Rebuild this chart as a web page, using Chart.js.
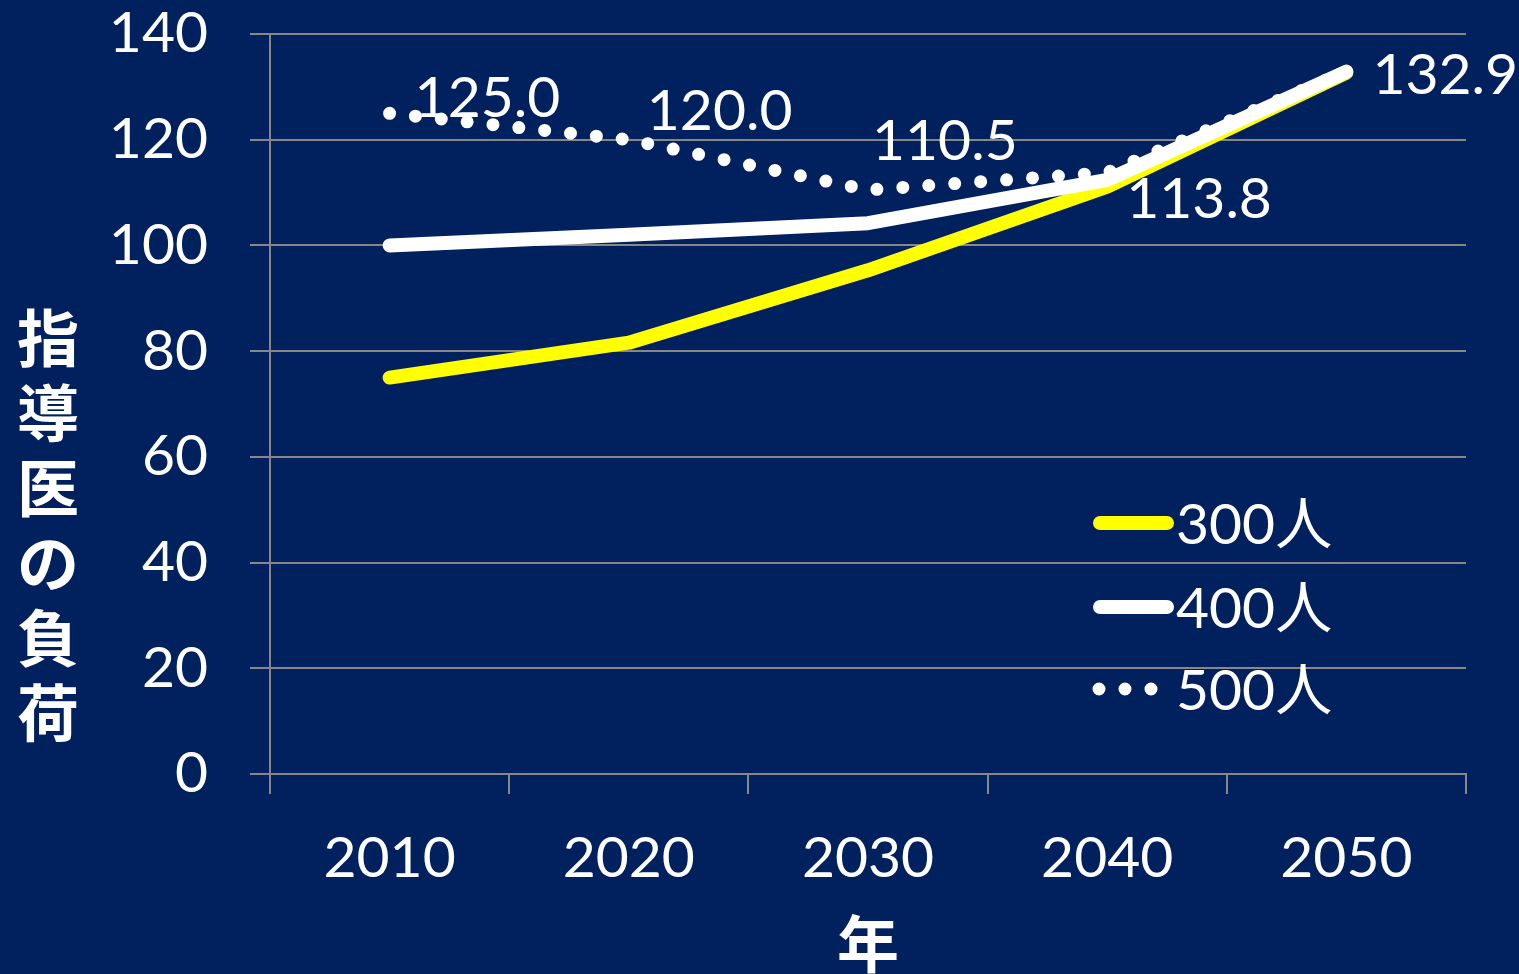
<!DOCTYPE html>
<html lang="ja">
  <head>
    <meta charset="UTF-8" />
    <title>指導医の負荷</title>
    <script src="https://cdn.jsdelivr.net/npm/chart.js@4.4.1/dist/chart.umd.min.js"></script>
    <style>
      html, body {
        margin: 0;
        padding: 0;
        background: #01205e;
        overflow: hidden;
      }
      #wrap {
        width: 1519px;
        height: 974px;
      }
    </style>
  </head>
  <body>
    <div id="wrap">
      <canvas id="loadChart" width="1519" height="974"></canvas>
    </div>
    <script>
      // data
      const years = ["2010", "2020", "2030", "2040", "2050"];
      const load300 = [75.0, 81.6, 95.3, 111.1, 132.7];
      const load400 = [100.0, 102.0, 104.2, 112.4, 132.9];
      const load500 = [125.0, 120.0, 110.5, 113.8, 132.9];
      const seriesNames = ["300人", "400人", "500人"];
      const yMin = 0;
      const yMax = 140;
      const yStep = 20;
      const yTitle = "指導医の負荷";
      const xTitle = "年";

      const numFont = "Lato, 'Noto Sans CJK JP', sans-serif";
      const cjkBold = "bold 62px 'Noto Sans CJK JP', sans-serif";
      const gridGray = "#878787";

      // value labels for the 500 series, offsets from each point
      const valueLabels = {
        id: "valueLabels",
        afterDatasetsDraw(chart) {
          const meta = chart.getDatasetMeta(2);
          const offs = [[25, 4], [18, -10], [4, -30], [19, 46], [26, 22]];
          const ctx = chart.ctx;
          ctx.save();
          ctx.font = "57px " + numFont;
          ctx.fillStyle = "#ffffff";
          ctx.textAlign = "left";
          ctx.textBaseline = "alphabetic";
          meta.data.forEach(function(pt, i) {
            ctx.fillText(load500[i].toFixed(1), pt.x + offs[i][0], pt.y + offs[i][1]);
          });
          ctx.restore();
        }
      };

      // legend inside plot + axis titles
      const extras = {
        id: "extras",
        afterDraw(chart) {
          const ctx = chart.ctx;
          ctx.save();
          const rows = [523, 607, 689];
          chart.data.datasets.forEach(function(ds, i) {
            const y = rows[i];
            ctx.beginPath();
            ctx.lineWidth = ds.borderWidth;
            ctx.strokeStyle = ds.borderColor;
            ctx.lineCap = "round";
            if (ds.borderDash) {
              ctx.setLineDash(ds.borderDash);
              ctx.moveTo(1099, y);
              ctx.lineTo(1153, y);
            } else {
              ctx.setLineDash([]);
              ctx.moveTo(1100, y);
              ctx.lineTo(1167, y);
            }
            ctx.stroke();
            ctx.setLineDash([]);
            ctx.font = "57px " + numFont;
            ctx.fillStyle = "#ffffff";
            ctx.textAlign = "left";
            ctx.textBaseline = "alphabetic";
            ctx.fillText(ds.label, 1176, y + 21);
          });

          // vertical y title, one character per row
          ctx.font = cjkBold;
          ctx.fillStyle = "#ffffff";
          ctx.textAlign = "center";
          ctx.textBaseline = "middle";
          Array.from(yTitle).forEach(function(ch, i) {
            ctx.fillText(ch, 48, 338 + i * 75);
          });
          ctx.fillText(xTitle, chart.chartArea.left + chart.chartArea.width / 2, 944);
          ctx.restore();
        }
      };

      new Chart(document.getElementById("loadChart"), {
        type: "line",
        data: {
          labels: years,
          datasets: [
            {
              label: seriesNames[0],
              data: load300,
              borderColor: "#ffff00",
              borderWidth: 14,
              borderCapStyle: "round",
              borderJoinStyle: "round",
              order: 3
            },
            {
              label: seriesNames[1],
              data: load400,
              borderColor: "#ffffff",
              borderWidth: 14,
              borderCapStyle: "round",
              borderJoinStyle: "round",
              order: 2
            },
            {
              label: seriesNames[2],
              data: load500,
              borderColor: "#ffffff",
              borderWidth: 13,
              borderDash: [0, 26],
              borderCapStyle: "round",
              order: 1
            }
          ]
        },
        options: {
          responsive: false,
          animation: false,
          devicePixelRatio: 1,
          layout: { padding: { top: 34, right: 53, left: 0, bottom: 0 } },
          elements: {
            point: { radius: 0, hoverRadius: 0 },
            line: { tension: 0 }
          },
          plugins: {
            legend: { display: false },
            tooltip: { enabled: false }
          },
          scales: {
            x: {
              offset: true,
              grid: {
                offset: true,
                drawOnChartArea: false,
                color: gridGray,
                lineWidth: 2,
                tickLength: 20
              },
              border: { color: gridGray, width: 2 },
              ticks: {
                color: "#ffffff",
                font: { family: numFont, size: 57 },
                padding: 30,
                maxRotation: 0
              },
              afterFit: function(scale) {
                scale.height = 200;
                scale.paddingLeft = 0;
                scale.paddingRight = 0;
              }
            },
            y: {
              min: yMin,
              max: yMax,
              grid: {
                color: gridGray,
                lineWidth: 2,
                tickLength: 20
              },
              border: { color: gridGray, width: 2 },
              ticks: {
                stepSize: yStep,
                color: "#ffffff",
                font: { family: numFont, size: 57, lineHeight: 1 },
                padding: 42
              },
              afterFit: function(scale) {
                scale.width = 270;
                scale.paddingTop = 0;
                scale.paddingBottom = 0;
              }
            }
          }
        },
        plugins: [valueLabels, extras]
      });
    </script>
  </body>
</html>
